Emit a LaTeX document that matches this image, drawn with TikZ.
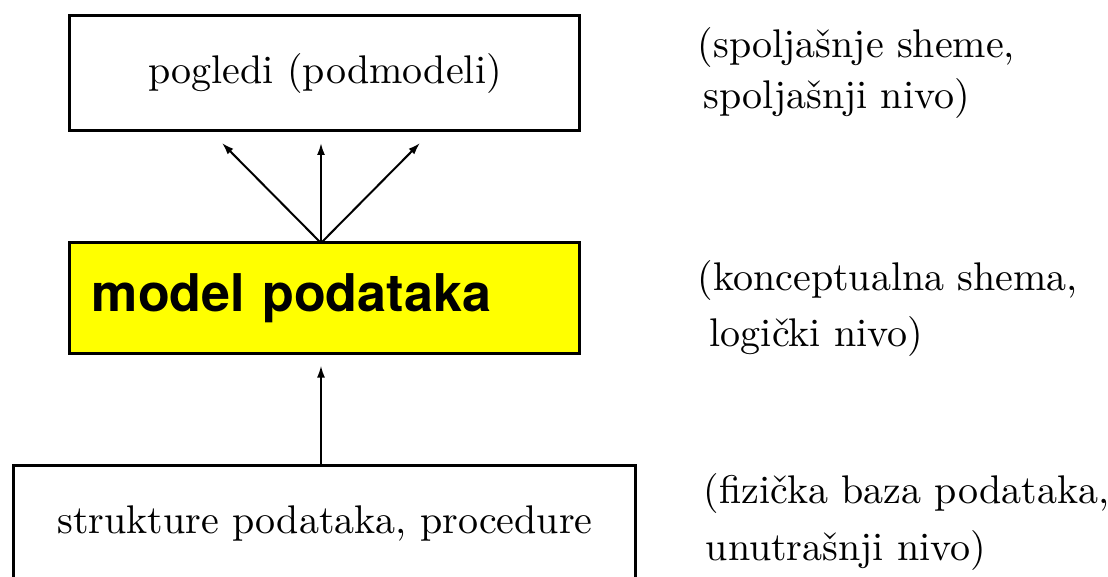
\documentclass[tikz,border=0pt]{standalone}
\usepackage{fontspec}
\newfontfamily\herosfont{TeX Gyre Heros}
\usetikzlibrary{arrows.meta,positioning}
\definecolor{modelyellow}{RGB}{255,255,0}

\begin{document}
\begin{tikzpicture}[x=0.25pt, y=0.25pt,
  levelbox/.style={draw, line width=0.75pt, inner sep=0pt, outer sep=0pt, font=\fontsize{10}{12}\selectfont},
  note/.style={anchor=base west, inner sep=0pt, font=\fontsize{10}{12}\selectfont},
  uparrow/.style={-{Latex[length=3pt, width=2pt]}, line width=0.5pt}]
  \useasboundingbox (0,0) rectangle (1108,577);
  \clip (0,0) rectangle (1108,577);

  % Levels
  \node[levelbox, minimum width=127.5pt, minimum height=28.75pt] (pogledi) at (325,503.5) {pogledi (podmodeli)};
  \node[levelbox, fill=modelyellow, minimum width=127.5pt, minimum height=27.75pt,
        text width=116.5pt, align=left, font=\herosfont\bfseries\fontsize{13}{15}\selectfont] (model) at (325,278.5) {model podataka};
  \node[levelbox, minimum width=155.5pt, minimum height=29pt] (struktura) at (325,53) {strukture podataka, procedure};

  % Arrows
  \coordinate (fan) at ([xshift=-1pt]model.north);
  \foreach \dx [count=\i] in {-99,0,99}
    \coordinate (tip\i) at ([shift={(\dx,100)}]fan);
  \foreach \i in {1,2,3}
    \draw[uparrow] (fan) -- (tip\i);
  \coordinate (base) at ([xshift=-1pt]struktura.north);
  \coordinate (belowmodel) at ([xshift=-1pt, yshift=-2.9pt]model.south);
  \draw[uparrow] (base) -- (belowmodel);

  % Notes
  \node[note] (spoljna1) at (697,519) {(spoljašnje sheme,};
  \node[note] (spoljna2) at (703,468) {spoljašnji nivo)};
  \node[note] (logicka1) at (697,286) {(konceptualna shema,};
  \node[note] (logicka2) at (709,230) {logički nivo)};
  \node[note] (fizicka1) at (703,73) {(fizička baza podataka,};
  \node[note] (fizicka2) at (705,16) {unutrašnji nivo)};
\end{tikzpicture}
\end{document}
